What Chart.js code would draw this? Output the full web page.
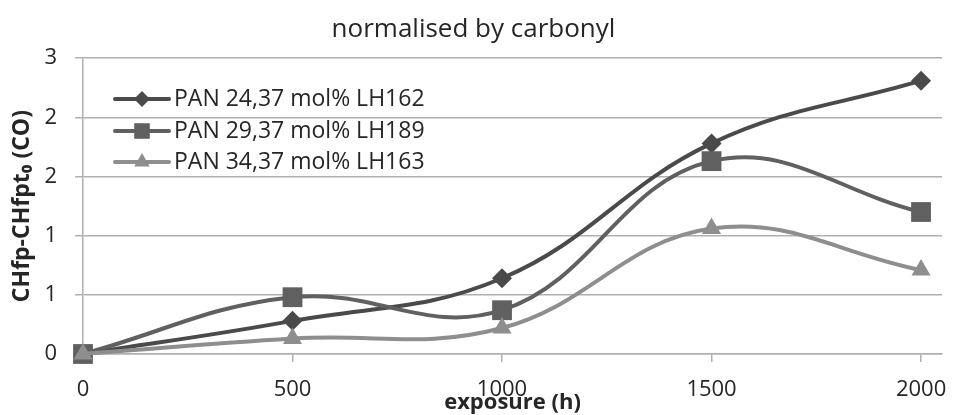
<!DOCTYPE html>
<html>
<head>
<meta charset="utf-8">
<script src="https://cdn.jsdelivr.net/npm/chart.js@4.4.1/dist/chart.umd.min.js"></script>
<style>
  html, body { margin: 0; padding: 0; background: #fff; }
</style>
</head>
<body>
<canvas id="chart" width="956" height="415"></canvas>
<script>
// exposure times (h) and the three series
const exposure = [0, 500, 1000, 1500, 2000];
const seriesNames = ['PAN 24,37 mol% LH162', 'PAN 29,37 mol% LH189', 'PAN 34,37 mol% LH163'];
const lh162 = [0, 0.28, 0.64, 1.78, 2.31];
const lh189 = [0, 0.48, 0.37, 1.63, 1.20];
const lh163 = [0, 0.13, 0.22, 1.06, 0.71];

// axis ticks as shown (Excel rounds the 0.5 steps)
const xTickValues = [0, 500, 1000, 1500, 2000];
const yTickLabels = ['0', '1', '1', '2', '2', '3'];

const textColor = '#262626';
const gridColor = '#b0b0b0';

function toPoints(values) {
    return exposure.map((x, i) => ({ x: x, y: values[i] }));
}

// legend drawn inside the plot, top left, like the Excel original
const insideLegend = {
    id: 'insideLegend',
    afterDraw(chart) {
        const ctx = chart.ctx;
        const x0 = 115, x1 = 169, tx = 174;
        const rows = [99, 131, 162];
        chart.data.datasets.forEach((ds, i) => {
            const y = rows[i];
            ctx.save();
            ctx.strokeStyle = ds.borderColor;
            ctx.lineWidth = 4;
            ctx.lineCap = 'round';
            ctx.beginPath();
            ctx.moveTo(x0, y);
            ctx.lineTo(x1, y);
            ctx.stroke();
            ctx.fillStyle = ds.pointBackgroundColor;
            Chart.helpers.drawPoint(ctx, {
                pointStyle: ds.pointStyle,
                radius: ds.legendRadius,
                rotation: 0,
                borderWidth: 0
            }, (x0 + x1) / 2, y);
            ctx.fillStyle = textColor;
            ctx.font = '23px "Open Sans"';
            ctx.textBaseline = 'middle';
            ctx.textAlign = 'left';
            ctx.fillText(ds.label, tx, y);
            ctx.restore();
        });
    }
};

const ctx = document.getElementById('chart').getContext('2d');
const chart = new Chart(ctx, {
    type: 'line',
    data: {
        datasets: [
            {
                label: seriesNames[0],
                data: toPoints(lh162),
                borderColor: '#4a4a4a',
                backgroundColor: '#4a4a4a',
                pointBackgroundColor: '#4a4a4a',
                pointStyle: 'rectRot',
                pointRadius: 10,
                legendRadius: 8,
                order: 3
            },
            {
                label: seriesNames[1],
                data: toPoints(lh189),
                borderColor: '#606060',
                backgroundColor: '#606060',
                pointBackgroundColor: '#606060',
                pointStyle: 'rect',
                pointRadius: 14,
                legendRadius: 11,
                order: 2
            },
            {
                label: seriesNames[2],
                data: toPoints(lh163),
                borderColor: '#8e8e8e',
                backgroundColor: '#8e8e8e',
                pointBackgroundColor: '#8e8e8e',
                pointStyle: 'triangle',
                pointRadius: 11,
                legendRadius: 9,
                order: 1
            }
        ]
    },
    options: {
        responsive: false,
        animation: false,
        clip: false,
        layout: { padding: { left: 0, right: 9, top: 0, bottom: 0 } },
        elements: {
            line: { borderWidth: 4, tension: 0.4, fill: false },
            point: { borderWidth: 0, hoverRadius: 10 }
        },
        plugins: {
            legend: { display: false },
            tooltip: { enabled: false },
            title: {
                display: true,
                text: 'normalised by carbonyl',
                color: textColor,
                font: { family: 'Open Sans', size: 26, weight: 'normal', lineHeight: 1.2 },
                padding: { top: 14, bottom: 13 }
            }
        },
        scales: {
            x: {
                type: 'linear',
                min: 0,
                max: 2050,
                afterBuildTicks: (scale) => {
                    scale.ticks = xTickValues.map(v => ({ value: v }));
                },
                afterFit: (scale) => {
                    scale.height = 61;
                    scale.paddingLeft = 0;
                    scale.paddingRight = 0;
                },
                grid: {
                    drawOnChartArea: false,
                    drawTicks: true,
                    tickLength: 8,
                    color: gridColor,
                    lineWidth: 1.5
                },
                border: { display: true, color: gridColor, width: 1.5 },
                ticks: {
                    color: textColor,
                    font: { family: 'Open Sans', size: 22 },
                    padding: 15,
                    maxRotation: 0,
                    autoSkip: false,
                    callback: (value) => String(value)
                },
                title: {
                    display: true,
                    text: 'exposure (h)',
                    color: textColor,
                    font: { family: 'Open Sans', size: 22, weight: 'bold', lineHeight: 1 },
                    padding: { top: 0, bottom: 1 }
                }
            },
            y: {
                min: 0,
                max: 2.5,
                afterFit: (scale) => { scale.width = 83; },
                grid: {
                    color: gridColor,
                    lineWidth: 1.5,
                    drawTicks: true,
                    tickLength: 8
                },
                border: { display: true, color: gridColor, width: 1.5 },
                ticks: {
                    stepSize: 0.5,
                    color: textColor,
                    font: { family: 'Open Sans', size: 22 },
                    padding: 18,
                    callback: (value, index) => yTickLabels[index]
                },
                title: {
                    display: true,
                    text: 'CHfp-CHfpt\u2080 (CO)',
                    color: textColor,
                    font: { family: 'Open Sans', size: 23, weight: 'bold', lineHeight: 1 },
                    padding: { top: 11, bottom: 0 }
                }
            }
        }
    },
    plugins: [insideLegend]
});
</script>
</body>
</html>
